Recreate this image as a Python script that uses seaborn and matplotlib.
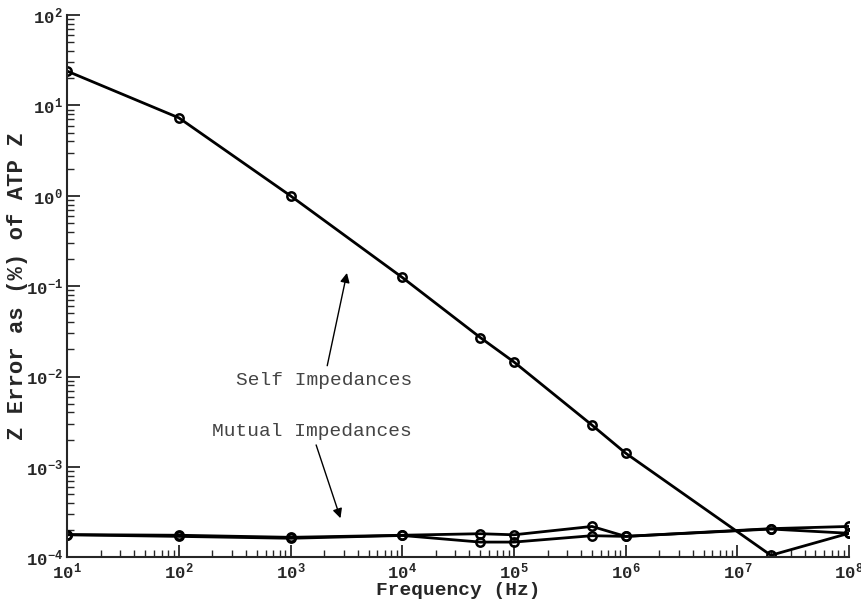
import numpy as np
import pandas as pd
import matplotlib
matplotlib.use("Agg")
import matplotlib.pyplot as plt
import seaborn as sns

# frequencies (Hz) at which errors were evaluated
freq = [1e1, 1e2, 1e3, 1e4, 5e4, 1e5, 5e5, 1e6, 2e7, 1e8]

# percentage error of Z relative to ATP
self_err = [24.0, 7.3, 1.0, 0.125, 0.027, 0.0145, 0.0029, 0.00142, 1.05e-4, 1.84e-4]
mutual_err_a = [1.78e-4, 1.75e-4, 1.66e-4, 1.75e-4, 1.82e-4, 1.77e-4, 2.19e-4, 1.70e-4, 2.07e-4, 2.19e-4]
mutual_err_b = [1.77e-4, 1.70e-4, 1.62e-4, 1.74e-4, 1.47e-4, 1.47e-4, 1.73e-4, 1.70e-4, 2.05e-4, 1.84e-4]

series = {
    "Self": self_err,
    "Mutual A": mutual_err_a,
    "Mutual B": mutual_err_b,
}

sns.set_style("ticks")
plt.rcParams["font.family"] = ["Liberation Mono", "DejaVu Sans"]
plt.rcParams["mathtext.fontset"] = "custom"
plt.rcParams["mathtext.rm"] = "Liberation Mono:bold"
plt.rcParams["mathtext.it"] = "Liberation Mono:bold"
plt.rcParams["mathtext.bf"] = "Liberation Mono:bold"
plt.rcParams["mathtext.default"] = "regular"

fig = plt.figure(figsize=(8.61, 6.05), dpi=100)
ax = fig.add_axes([0.078, 0.079, 0.908, 0.896])

for name, vals in series.items():
    df = pd.DataFrame({"Frequency": freq, "Error": vals})
    sns.lineplot(data=df, x="Frequency", y="Error", ax=ax, color="black",
                 linewidth=2, marker="o", markersize=6, markerfacecolor="none",
                 markeredgecolor="black", markeredgewidth=1.8,
                 estimator=None, sort=False)

ax.set_xscale("log")
ax.set_yscale("log")
ax.set_xlim(1e1, 1e8)
ax.set_ylim(1e-4, 1e2)

ax.set_xlabel("Frequency (Hz)", fontsize=14, fontweight="bold")
ax.set_ylabel("Z Error as (%) of ATP Z", fontsize=16, fontweight="bold")
ax.xaxis.set_label_coords(0.5, -0.045)
ax.yaxis.set_label_coords(-0.050, 0.5)

sns.despine(ax=ax)
for s in ["left", "bottom"]:
    ax.spines[s].set_linewidth(1.5)

ax.tick_params(which="major", direction="in", length=9, width=1.3,
               labelsize=12.5, pad=3)
ax.tick_params(which="minor", direction="in", length=5, width=1.0)
for lab in ax.get_xticklabels() + ax.get_yticklabels():
    lab.set_fontweight("bold")

note_color = "#444444"
ax.annotate("Self Impedances", xy=(3.2e3, 0.14), xytext=(2.0e3, 0.0091),
            ha="center", va="center", fontsize=14, color=note_color,
            arrowprops=dict(arrowstyle="-|>", color="black", lw=1.0,
                            shrinkA=2, shrinkB=0, mutation_scale=14))
ax.annotate("Mutual Impedances", xy=(2.8e3, 2.7e-4), xytext=(1.55e3, 0.00244),
            ha="center", va="center", fontsize=14, color=note_color,
            arrowprops=dict(arrowstyle="-|>", color="black", lw=1.0,
                            shrinkA=1, shrinkB=0, mutation_scale=14))

fig.savefig("out.png", dpi=100)
